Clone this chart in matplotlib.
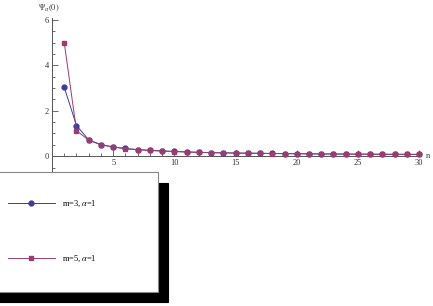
import matplotlib
matplotlib.use("Agg")
import matplotlib.pyplot as plt
from matplotlib.ticker import MultipleLocator

n = list(range(1, 31))
psi_m3 = [3.03, 1.35, 0.72, 0.51, 0.41, 0.34, 0.29, 0.26, 0.23, 0.21,
          0.19, 0.17, 0.16, 0.15, 0.14, 0.135, 0.13, 0.12, 0.115, 0.11,
          0.105, 0.10, 0.098, 0.095, 0.092, 0.09, 0.087, 0.085, 0.083, 0.08]
psi_m5 = [5.0, 1.13, 0.70, 0.50, 0.40, 0.33, 0.285, 0.255, 0.225, 0.205,
          0.185, 0.17, 0.155, 0.145, 0.138, 0.13, 0.125, 0.118, 0.113, 0.108,
          0.103, 0.099, 0.096, 0.093, 0.09, 0.088, 0.085, 0.083, 0.081, 0.079]
labels = [r"m=3, $\alpha$=1", r"m=5, $\alpha$=1"]
colors = ["#3d3d99", "#993d71"]
markers = ["o", "s"]

plt.rcParams["font.family"] = ["Liberation Serif", "DejaVu Serif"]
plt.rcParams["mathtext.fontset"] = "stix"

fig = plt.figure(figsize=(4.33, 3.06), dpi=100)
W, H = 433, 306
ax = fig.add_axes([52 / W, (H - 171) / H, (421 - 52) / W, (171 - 17.5) / H])
ax.set_xlim(0, 30.15)
ax.set_ylim(-0.65, 6.1)

handles = []
for ys, c, m, lab in zip([psi_m3, psi_m5], colors, markers, labels):
    h, = ax.plot(n, ys, color=c, lw=0.7, marker=m, ms=3.5, mfc=c, mec=c,
                 label=lab, clip_on=False, zorder=3)
    handles.append(h)

for s in ["top", "right"]:
    ax.spines[s].set_visible(False)
ax.spines["bottom"].set_position(("data", 0))
ax.spines["left"].set_position(("data", 0))
for s in ["bottom", "left"]:
    ax.spines[s].set_color("#555555")
    ax.spines[s].set_linewidth(0.7)

ax.xaxis.set_major_locator(MultipleLocator(5))
ax.xaxis.set_minor_locator(MultipleLocator(1))
ax.yaxis.set_major_locator(MultipleLocator(2))
ax.yaxis.set_minor_locator(MultipleLocator(0.5))
ax.set_xticks([5, 10, 15, 20, 25, 30])
ax.set_yticks([0, 2, 4, 6])
ax.tick_params(which="both", direction="in", colors="#555555", labelcolor="#333333",
               labelsize=6, width=0.6)
ax.tick_params(which="major", length=4, pad=2)
ax.tick_params(which="minor", length=2.2)
ax.set_facecolor("none")

ax.text(-0.3, 6.25, r"$\Psi_\alpha(0)$", ha="center", va="bottom", fontsize=6, color="#333333")
ax.text(30.55, 0, "n", ha="left", va="center", fontsize=6, color="#333333")

leg = fig.legend(handles=handles, loc="upper left",
                 bbox_to_anchor=(-19.5 / W, (H - 291) / H, 177.5 / W, 119 / H),
                 bbox_transform=fig.transFigure, mode="expand", borderaxespad=0,
                 fontsize=6, frameon=True, fancybox=False, framealpha=1,
                 edgecolor="#888888", borderpad=3.25, labelspacing=5.35,
                 handlelength=5.7, handletextpad=0.85,
                 shadow={"ox": 7.2, "oy": -7.9, "color": "black", "alpha": 1})
leg.get_frame().set_linewidth(0.8)

fig.savefig("out.png", dpi=100)
